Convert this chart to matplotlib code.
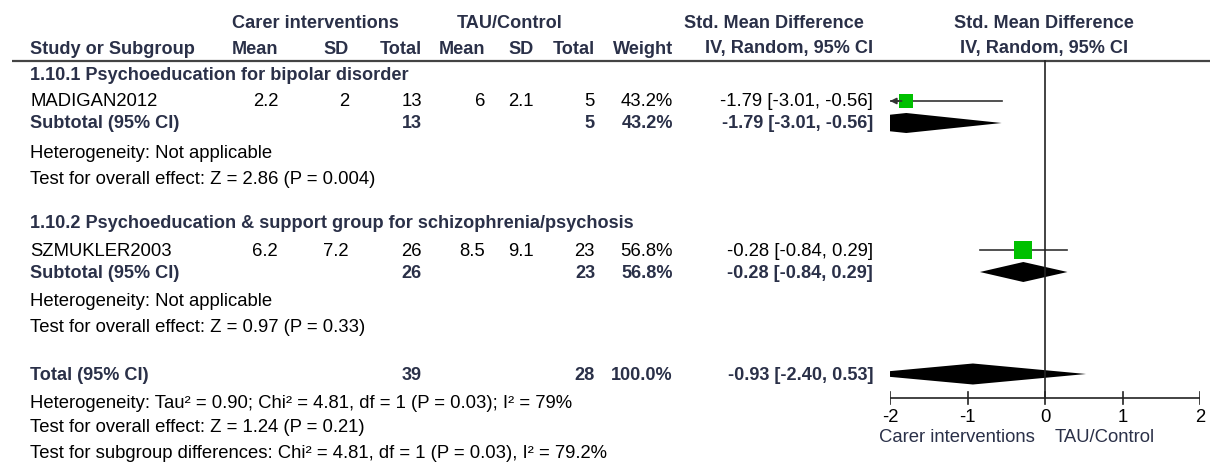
import numpy as np
import matplotlib.pyplot as plt
from matplotlib.patches import Polygon

plt.rcParams['font.family'] = ['Liberation Sans', 'DejaVu Sans']

# data
subgroups = ['1.10.1 Psychoeducation for bipolar disorder',
             '1.10.2 Psychoeducation & support group for schizophrenia/psychosis']
studies = ['MADIGAN2012', 'SZMUKLER2003']
carer_mean = ['2.2', '6.2']
carer_sd = ['2', '7.2']
carer_n = [13, 26]
tau_mean = ['6', '8.5']
tau_sd = ['2.1', '9.1']
tau_n = [5, 23]
weights = ['43.2%', '56.8%']
smd = [-1.79, -0.28]
ci_lo = [-3.01, -0.84]
ci_hi = [-0.56, 0.29]
sq_size = [14, 18]   # marker size in px, from weight

total_n = [39, 28]
total_smd, total_lo, total_hi = -0.93, -2.40, 0.53

sub_notes = [['Heterogeneity: Not applicable', 'Test for overall effect: Z = 2.86 (P = 0.004)'],
             ['Heterogeneity: Not applicable', 'Test for overall effect: Z = 0.97 (P = 0.33)']]
total_notes = ['Heterogeneity: Tau\u00b2 = 0.90; Chi\u00b2 = 4.81, df = 1 (P = 0.03); I\u00b2 = 79%',
               'Test for overall effect: Z = 1.24 (P = 0.21)',
               'Test for subgroup differences: Chi\u00b2 = 4.81, df = 1 (P = 0.03), I\u00b2 = 79.2%']
xticks = [-2, -1, 0, 1, 2]
favours = ['Carer interventions', 'TAU/Control']

W, H = 1210, 462
BOLD = '#2a3048'
GREEN = '#00c000'
FS = 13.3    # regular text
FSB = 13.1   # bold text

fig = plt.figure(figsize=(W / 100, H / 100), dpi=100)
ax = fig.add_axes([0, 0, 1, 1])
ax.set_xlim(0, W)
ax.set_ylim(H, 0)
ax.axis('off')

# column right edges
xL = 30
cols = [278, 349, 422, 485, 534, 595, 673, 873]


def row(y, vals, bold=False):
    for x, v in zip(cols, vals):
        if v == '':
            continue
        ax.text(x, y, str(v), ha='right', va='center', fontsize=FSB if bold else FS,
                fontweight='bold' if bold else 'normal', color=BOLD if bold else 'black')


def btext(x, y, s, ha='left'):
    ax.text(x, y, s, ha=ha, va='center', fontsize=FSB, fontweight='bold', color=BOLD)


def ntext(x, y, s, ha='left'):
    ax.text(x, y, s, ha=ha, va='center', fontsize=FS, color='black')


# header
btext(315, 23, 'Carer interventions', ha='center')
btext(510, 23, 'TAU/Control', ha='center')
btext(774, 23, 'Std. Mean Difference', ha='center')
btext(1044, 23, 'Std. Mean Difference', ha='center')
btext(xL, 49, 'Study or Subgroup')
row(49, ['Mean', 'SD', 'Total', 'Mean', 'SD', 'Total', 'Weight', 'IV, Random, 95% CI'], bold=True)
btext(1044, 49, 'IV, Random, 95% CI', ha='center')
ax.plot([12, W], [61, 61], color='#444444', lw=1.6, solid_capstyle='butt')

# forest axes sharing the pixel y scale
fx0, fx1 = 890, 1200
fa = fig.add_axes([fx0 / W, 0, (fx1 - fx0) / W, 1])
fa.set_xlim(-2, 2)
fa.set_ylim(H, 0)
fa.axis('off')


def diamond(y, lo, mid, hi, h=10):
    pts = np.array([[lo, y], [mid, y - h], [hi, y], [mid, y + h]])
    p = Polygon(pts, closed=True, color='black', lw=0, clip_on=True)
    fa.add_patch(p)
    p.set_clip_box(fa.bbox)


ys_sub = [75, 224]
ys_study = [102, 251]
ys_subtot = [124, 273]
ys_notes = [[153, 179], [302, 327]]
for i in range(2):
    btext(xL, ys_sub[i], subgroups[i])
    ntext(xL, ys_study[i], studies[i])
    ci = '%.2f [%.2f, %.2f]' % (smd[i], ci_lo[i], ci_hi[i])
    row(ys_study[i], [carer_mean[i], carer_sd[i], carer_n[i], tau_mean[i], tau_sd[i],
                      tau_n[i], weights[i], ci])
    btext(xL, ys_subtot[i], 'Subtotal (95% CI)')
    row(ys_subtot[i], ['', '', carer_n[i], '', '', tau_n[i], weights[i], ci], bold=True)
    for s, y in zip(sub_notes[i], ys_notes[i]):
        ntext(xL, y, s)

    # study line and square
    ys = ys_study[i] - 1
    lo = max(ci_lo[i], -2)
    hi = min(ci_hi[i], 2)
    fa.plot([lo, hi], [ys, ys], color='#333333', lw=1.2)
    if ci_lo[i] < -2:
        fa.annotate('', xy=(-2, ys), xytext=(-1.85, ys),
                    arrowprops=dict(arrowstyle='-|>', color='#333333', lw=1.2,
                                    mutation_scale=9, shrinkA=0, shrinkB=0))
    fa.plot([smd[i]], [ys], marker='s', color=GREEN, ms=sq_size[i] * 0.72, mew=0)
    diamond(ys_subtot[i] - 1, ci_lo[i], smd[i], ci_hi[i])

# total
y_tot = 375
btext(xL, y_tot, 'Total (95% CI)')
row(y_tot, ['', '', total_n[0], '', '', total_n[1], '100.0%',
            '%.2f [%.2f, %.2f]' % (total_smd, total_lo, total_hi)], bold=True)
for s, y in zip(total_notes, [404, 428, 453]):
    ntext(xL, y, s)
diamond(y_tot - 1, total_lo, total_smd, total_hi, h=10.5)

# zero line and axis
fa.plot([0, 0], [61, 398], color='#222222', lw=1.2)
fa.plot([-2, 2], [398, 398], color='#222222', lw=1.2)
for t in xticks:
    fa.plot([t, t], [392, 404], color='#222222', lw=1.2)
    fa.text(t, 418, '%d' % t, ha='center', va='center', fontsize=FS)
ax.text(1035, 438, favours[0], ha='right', va='center', fontsize=FS, color=BOLD)
ax.text(1055, 438, favours[1], ha='left', va='center', fontsize=FS, color=BOLD)

fig.savefig('out.png', dpi=100)
